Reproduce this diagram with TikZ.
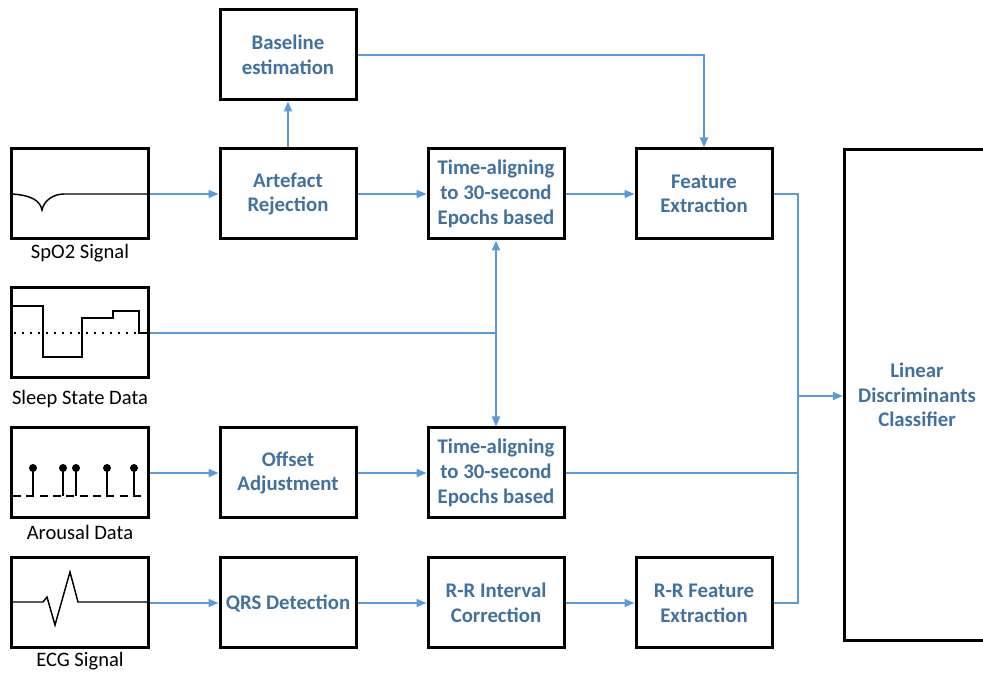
\documentclass[tikz,border=0pt]{standalone}
\usepackage{fontspec}
\setmainfont{Carlito}
\usetikzlibrary{arrows.meta,positioning,calc}
\definecolor{txtblue}{RGB}{65,113,156}
\definecolor{arrblue}{RGB}{91,155,213}

\begin{document}
\begin{tikzpicture}[x=0.75pt,y=-0.75pt,
  every node/.style={font=\fontsize{15.6}{18.5}\selectfont},
  block/.style={rectangle, draw, line width=2.25pt, minimum width=102pt, minimum height=67.5pt, align=center, text=txtblue, font=\fontsize{15.6}{18.5}\selectfont\bfseries, inner sep=2pt},
  icon/.style={rectangle, draw, line width=2.25pt, minimum width=102.75pt, minimum height=67.5pt},
  lbl/.style={font=\fontsize{15.4}{18}\selectfont, inner sep=1pt},
  flow/.style={draw=arrblue, line width=1.3pt, -{Triangle[length=7.5pt,width=6pt]}},
  link/.style={draw=arrblue, line width=1.3pt},
  wave/.style={line width=1.1pt}
]
\clip (0,0) rectangle (983,673);

% Input signals
\node[icon, label={[lbl, label distance=1.5pt]below:SpO2 Signal}] (spo2) at (80,194) {};
\node[icon, label={[lbl, label distance=6.5pt]below:Sleep State Data}] (sleep) at (80,333) {};
\node[icon, label={[lbl, label distance=3pt]below:Arousal Data}] (arousal) at (80,473) {};
\node[icon, label={[lbl, label distance=0.8pt]below:ECG Signal}] (ecg) at (80,603) {};

% Processing blocks
\node[block] (base) at (288,55) {Baseline\\estimation};
\node[block] (art) at (288,194) {Artefact\\Rejection};
\node[block] (ta1) at (496,194) {Time-aligning\\to 30-second\\Epochs based};
\node[block] (fe) at (704,194) {Feature\\Extraction};
\node[block] (off) at (288,473) {Offset\\Adjustment};
\node[block] (ta2) at (496,473) {Time-aligning\\to 30-second\\Epochs based};
\node[block] (qrs) at (288,603) {QRS Detection};
\node[block] (rri) at (496,603) {R-R Interval\\Correction};
\node[block] (rrfe) at (704,603) {R-R Feature\\Extraction};
\node[block, minimum width=109pt, minimum height=368pt] (clf) at (917,395) {Linear\\Discriminants\\Classifier};

% Waveforms inside the icons
\draw[wave] (11.5,194) .. controls (30,195) and (40,200) .. (42,210)
  .. controls (44,200) and (54,194) .. (64,194) -- (148.5,194);
\draw[wave] (11.5,306) -- (43,306) -- (43,357) -- (82,357) -- (82,318) -- (113,318)
  -- (113,311) -- (139,311) -- (139,333) -- (148.5,333);
\draw[line width=1.5pt, dash pattern=on 1.5pt off 4.5pt] (14,333) -- (139,333);
\draw[line width=1.5pt, dash pattern=on 6pt off 4pt] (13,496) -- (146,496);
\foreach \sx in {33,63,76,107,134} {
  \draw[wave] (\sx,496) -- (\sx,468);
  \fill (\sx,468) circle (3pt);
}
\draw[wave] (11.5,602) -- (43,602) -- (47,597) -- (55,625) -- (70,572) -- (78,602) -- (148.5,602);

% Connections
\coordinate (jn) at (ta1.south |- sleep.east);
\coordinate (bus) at (798,396);
\draw[flow] (spo2.east) -- (art.west);
\draw[flow] (art.north) -- (base.south);
\draw[flow] (base.east) -| (fe.north);
\draw[flow] (art.east) -- (ta1.west);
\draw[flow] (ta1.east) -- (fe.west);
\draw[link] (sleep.east) -- (jn);
\draw[flow] (jn) -- (ta1.south);
\draw[flow] (jn) -- (ta2.north);
\draw[flow] (arousal.east) -- (off.west);
\draw[flow] (off.east) -- (ta2.west);
\draw[flow] (ecg.east) -- (qrs.west);
\draw[flow] (qrs.east) -- (rri.west);
\draw[flow] (rri.east) -- (rrfe.west);
\draw[link] (fe.east) -| (bus);
\draw[link] (rrfe.east) -| (bus);
\draw[link] (ta2.east) -| (bus);
\draw[flow] (bus) -- (bus -| clf.west);

\end{tikzpicture}
\end{document}
